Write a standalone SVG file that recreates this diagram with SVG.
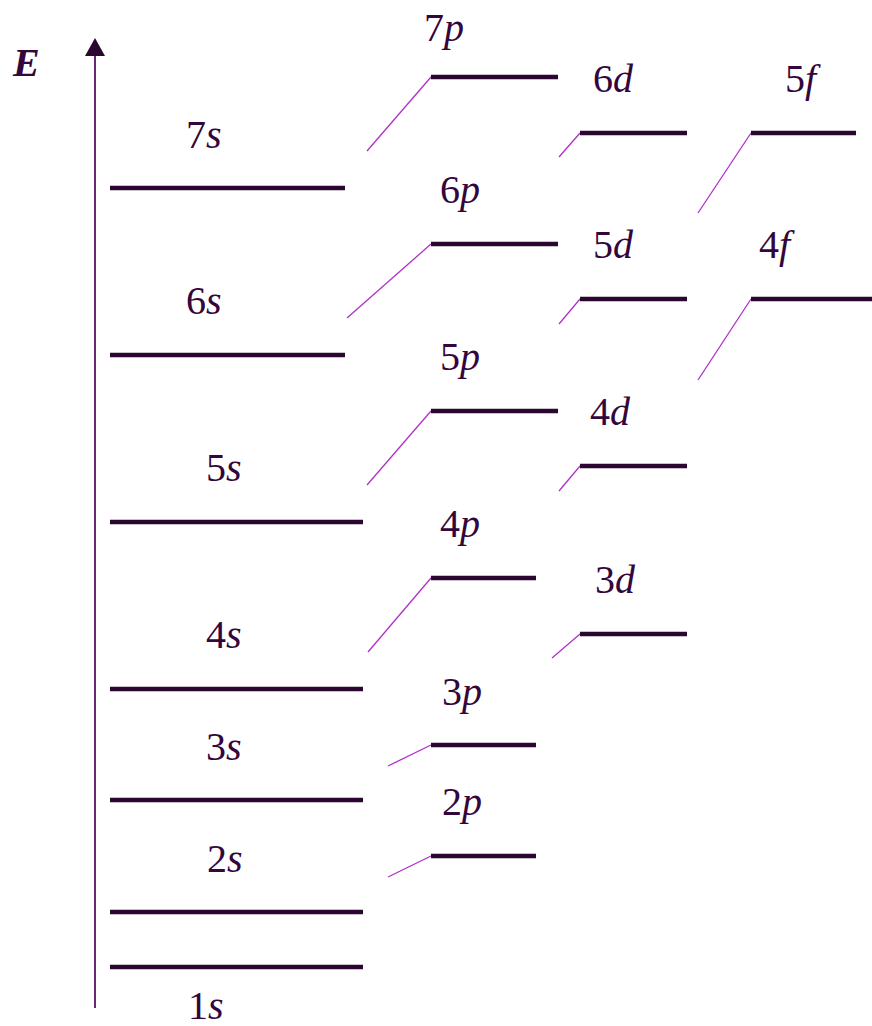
<svg xmlns="http://www.w3.org/2000/svg" width="872" height="1026" viewBox="0 0 872 1026">
<style>
.lv{stroke:#2a0630;stroke-width:4.5;fill:none}
.sl{stroke:#b030c8;stroke-width:1.3;fill:none}
.ax{stroke:#5a1068;stroke-width:1.8;fill:none}
text{font-family:"Liberation Serif","DejaVu Serif","Noto Serif","Times New Roman",serif;font-size:40px;fill:#33063c}
.i{font-style:italic}
</style>
<rect width="872" height="1026" fill="#ffffff"/>
<g id="axis">
<line class="ax" x1="95" y1="1008" x2="95" y2="52"/>
<polygon points="95,38 85,56 105,56" fill="#2a0630"/>
<text x="13" y="76" font-weight="bold" font-style="italic" font-size="38">E</text>
</g>
<g id="connectors">
<line class="sl" x1="367" y1="151" x2="431" y2="77"/>
<line class="sl" x1="347" y1="318" x2="431" y2="244"/>
<line class="sl" x1="367" y1="485" x2="431" y2="411"/>
<line class="sl" x1="368" y1="652" x2="431" y2="578"/>
<line class="sl" x1="388" y1="766" x2="431" y2="745"/>
<line class="sl" x1="388" y1="877" x2="431" y2="856"/>
<line class="sl" x1="559" y1="157" x2="580" y2="133"/>
<line class="sl" x1="559" y1="324" x2="580" y2="299"/>
<line class="sl" x1="559" y1="491" x2="580" y2="466"/>
<line class="sl" x1="552" y1="658" x2="580" y2="634"/>
<line class="sl" x1="698" y1="213" x2="751" y2="133"/>
<line class="sl" x1="698" y1="380" x2="751" y2="299"/>
</g>
<g id="s7"><line class="lv" x1="110" y1="188" x2="345" y2="188"/><text x="186" y="148">7<tspan class="i">s</tspan></text></g>
<g id="s6"><line class="lv" x1="110" y1="355" x2="345" y2="355"/><text x="186" y="314">6<tspan class="i">s</tspan></text></g>
<g id="s5"><line class="lv" x1="110" y1="522" x2="363" y2="522"/><text x="206" y="481">5<tspan class="i">s</tspan></text></g>
<g id="s4"><line class="lv" x1="110" y1="689" x2="363" y2="689"/><text x="206" y="648">4<tspan class="i">s</tspan></text></g>
<g id="s3"><line class="lv" x1="110" y1="800" x2="363" y2="800"/><text x="206" y="760">3<tspan class="i">s</tspan></text></g>
<g id="s2"><line class="lv" x1="110" y1="912" x2="363" y2="912"/><text x="207" y="872">2<tspan class="i">s</tspan></text></g>
<g id="s1"><line class="lv" x1="110" y1="967" x2="363" y2="967"/><text x="188" y="1019">1<tspan class="i">s</tspan></text></g>
<g id="p7"><line class="lv" x1="431" y1="77" x2="558" y2="77"/><text x="424" y="41">7<tspan class="i">p</tspan></text></g>
<g id="p6"><line class="lv" x1="431" y1="244" x2="558" y2="244"/><text x="440" y="203">6<tspan class="i">p</tspan></text></g>
<g id="p5"><line class="lv" x1="431" y1="411" x2="558" y2="411"/><text x="440" y="370">5<tspan class="i">p</tspan></text></g>
<g id="p4"><line class="lv" x1="431" y1="578" x2="536" y2="578"/><text x="440" y="537">4<tspan class="i">p</tspan></text></g>
<g id="p3"><line class="lv" x1="431" y1="745" x2="536" y2="745"/><text x="442" y="705">3<tspan class="i">p</tspan></text></g>
<g id="p2"><line class="lv" x1="431" y1="856" x2="536" y2="856"/><text x="442" y="815">2<tspan class="i">p</tspan></text></g>
<g id="d6"><line class="lv" x1="580" y1="133" x2="687" y2="133"/><text x="593" y="92">6<tspan class="i">d</tspan></text></g>
<g id="d5"><line class="lv" x1="580" y1="299" x2="687" y2="299"/><text x="593" y="258">5<tspan class="i">d</tspan></text></g>
<g id="d4"><line class="lv" x1="580" y1="466" x2="687" y2="466"/><text x="590" y="425">4<tspan class="i">d</tspan></text></g>
<g id="d3"><line class="lv" x1="580" y1="634" x2="687" y2="634"/><text x="595" y="593">3<tspan class="i">d</tspan></text></g>
<g id="f5"><line class="lv" x1="751" y1="133" x2="856" y2="133"/><text x="785" y="92">5<tspan class="i">f</tspan></text></g>
<g id="f4"><line class="lv" x1="751" y1="299" x2="872" y2="299"/><text x="759" y="258">4<tspan class="i">f</tspan></text></g>
</svg>
